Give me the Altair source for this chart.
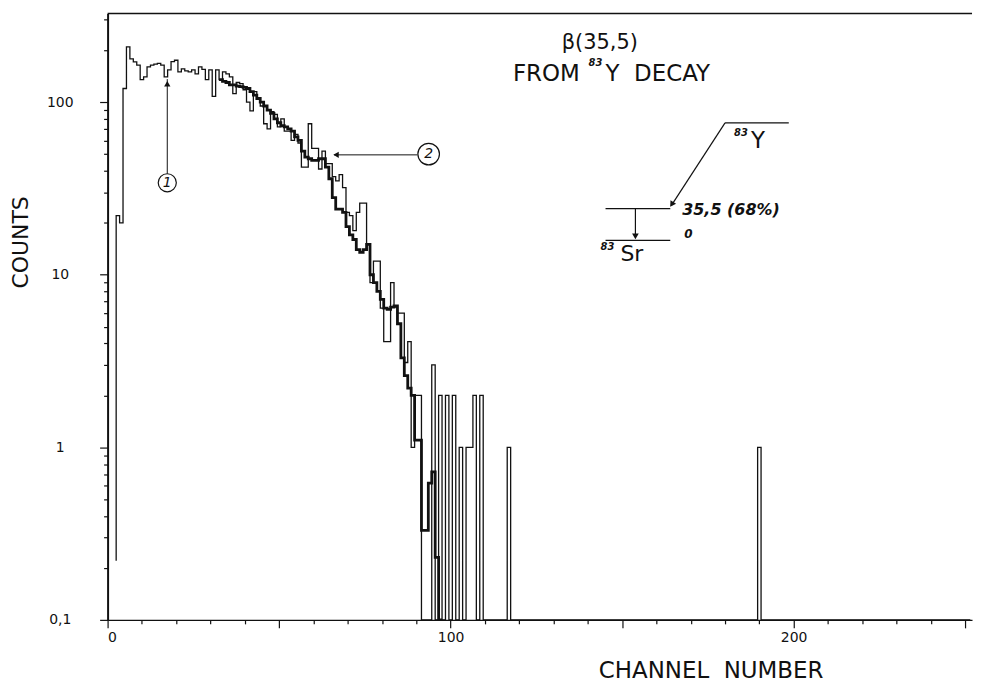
import altair as alt
import pandas as pd

# ---------------- data ----------------
# thin histogram (1): counts per channel, starting at channel 3
thin_first_channel = 3
thin_counts = [
    22, 20, 120, 209, 178, 171, 164, 135, 140, 160,          # 3-12
    164, 166, 168, 164, 140, 154, 172, 175, 150, 156,        # 13-22
    152, 150, 154, 146, 160, 155, 135, 154, 108, 154,        # 23-32
    135, 150, 146, 140, 112, 130, 128, 118, 100, 89,         # 33-42
    115, 105, 95, 75, 70, 88, 85, 72, 80, 68,                # 43-52
    68, 60, 65, 58, 42, 42, 75, 54, 54, 41,                  # 53-62
    52, 44, 44, 37, 35, 38, 32, 23, 22, 18,                  # 63-72
    23, 26, 26, 15, 9, 12, 12, 6.4, 4.1, 4.1,                # 73-82
    9, 6.5, 6.0, 6.0, 3.1, 4.1, 1.0, 2.0, 2.0, 0,            # 83-92
    0, 0, 3, 0, 2, 0, 2, 0, 2, 0,                            # 93-102
    1, 0, 1, 1, 2, 0, 2, 0, 0, 0,                            # 103-112
    0, 0, 0, 0, 1,                                           # 113-117
]
thin_start_level = 0.22
late_channels = [190]
late_counts = [1]
last_channel = 251

# thick histogram (2): counts per channel, starting at channel 33
thick_first_channel = 33
thick_counts = [
    135, 132, 130, 126, 126, 124, 123, 122, 120, 115,        # 33-42
    110, 105, 100, 95, 90, 86, 80, 76, 73, 72,               # 43-52
    70, 68, 63, 60, 52, 48, 47, 46, 46, 47,                  # 53-62
    47, 42, 36, 28, 24, 24, 23, 19, 17, 16,                  # 63-72
    14, 13.5, 14, 15, 10, 9, 8, 7.2, 6.4, 6.3,               # 73-82
    6.5, 6.6, 5.2, 3.3, 2.6, 2.2, 2.0, 1.1, 1.1, 0.33,       # 83-92
    0.33, 0.62, 0.72, 0.23, 0,                               # 93-97
]

# axes
x_domain = [0, 252]
y_domain = [0.1, 327]
x_tick_values = list(range(0, 260, 10))
x_label_values = [0, 100, 200]
y_tick_values = [round(m * 10.0 ** e, 6) for e in (-1, 0, 1) for m in range(1, 10)] + [100, 200, 300]
y_label_values = [0.1, 1, 10, 100]
y_label_texts = ["0,1", "1", "10", "100"]

# annotations (data coordinates)
ann_channels = [17.4, 93.6]
ann_counts = [34.1, 50.0]
ann_texts = ["1", "2"]

W, H = 868, 609
FONT = "DejaVu Sans"
INK = "#111111"


def step_vertices(first, counts, start_level=None):
    floor = y_domain[0]
    rows = []
    if start_level is not None:
        rows.append((first - 0.5, start_level))
    for k, c in enumerate(counts):
        ch = first + k
        v = max(c, floor)
        rows.append((ch - 0.5, v))
        rows.append((ch + 0.5, v))
    df = pd.DataFrame(rows, columns=["channel", "counts"])
    df["i"] = range(len(df))
    return df


full = {thin_first_channel + k: c for k, c in enumerate(thin_counts)}
for ch, c in zip(late_channels, late_counts):
    full[ch] = c
thin_all = [full.get(ch, 0) for ch in range(thin_first_channel, last_channel + 1)]
thin_df = step_vertices(thin_first_channel, thin_all, thin_start_level)
thick_df = step_vertices(thick_first_channel, thick_counts)

xs = alt.Scale(domain=x_domain, nice=False, zero=False)
ys = alt.Scale(type="log", domain=y_domain, nice=False)

x_label_expr = "indexof(%s, datum.value) >= 0 ? '' + datum.value : ''" % str(x_label_values)
y_label_expr = " : ".join(
    "datum.value == %s ? '%s'" % (v, t) for v, t in zip(y_label_values, y_label_texts)
) + " : ''"

x_axis = alt.Axis(
    values=x_tick_values, labelExpr=x_label_expr, title=None, grid=False,
    domainColor=INK, domainWidth=1.5, tickColor=INK, tickWidth=1.2,
    tickSize={"condition": {"test": "datum.value % 50 == 0", "value": 8}, "value": 4},
    labelFont=FONT, labelFontSize=14, labelColor=INK, labelPadding=3, labelOverlap=False,
)
y_axis = alt.Axis(
    values=y_tick_values, labelExpr=y_label_expr, title=None, grid=False,
    domainColor=INK, domainWidth=2, tickColor=INK, tickWidth=1.2,
    tickSize={"condition": {"test": "indexof(%s, datum.value) >= 0" % str(y_label_values), "value": 8}, "value": 4},
    labelFont=FONT, labelFontSize=14, labelColor=INK, labelAlign="center", labelBaseline="middle",
    labelPadding=40, labelOverlap=False,
)

X = alt.X("channel:Q", scale=xs, axis=x_axis)
Y = alt.Y("counts:Q", scale=ys, axis=y_axis)

thin = alt.Chart(thin_df).mark_line(color=INK, strokeWidth=1.3, clip=True).encode(
    x=X, y=Y, order="i:Q")
thick = alt.Chart(thick_df).mark_line(color=INK, strokeWidth=2.8, clip=True).encode(
    x=X, y=Y, order="i:Q")

# top frame line
frame_df = pd.DataFrame({"k": [0]})
top_line = alt.Chart(frame_df).mark_rule(color=INK, strokeWidth=1.5).encode(
    x=alt.value(0), x2=alt.value(W), y=alt.value(0))

# arrows to the curves
arr1 = pd.DataFrame({"channel": [17.4], "counts": [38.5], "counts2": [136]})
arr1_line = alt.Chart(arr1).mark_rule(color=INK, strokeWidth=1).encode(
    x=X, y=Y, y2="counts2:Q")
arr1_head = alt.Chart(pd.DataFrame({"channel": [17.4], "counts": [128]})).mark_point(
    shape="triangle-up", filled=True, color=INK, size=40, opacity=1).encode(x=X, y=Y)
arr2 = pd.DataFrame({"channel": [66.0], "channel2": [90.3], "counts": [49.5]})
arr2_line = alt.Chart(arr2).mark_rule(color=INK, strokeWidth=1).encode(
    x=X, x2="channel2:Q", y=Y)
arr2_head = alt.Chart(pd.DataFrame({"channel": [66.6], "counts": [49.5]})).mark_point(
    shape="triangle-left", filled=True, color=INK, size=40, opacity=1).encode(x=X, y=Y)

ann_df = pd.DataFrame({"channel": ann_channels, "counts": ann_counts, "label": ann_texts,
                       "sz": [330, 470]})
circles = alt.Chart(ann_df).mark_point(shape="circle", color=INK, strokeWidth=1.2, opacity=1).encode(
    x=X, y=Y, size=alt.Size("sz:Q", scale=None, legend=None))
circle_txt = alt.Chart(ann_df).mark_text(font=FONT, fontSize=14, fontStyle="italic", color=INK).encode(
    x=X, y=Y, text="label:N")


def txt(s, x, y, size, style="normal", weight="normal", angle=0, align="left", baseline="alphabetic"):
    kw = dict(font=FONT, fontSize=size, fontStyle=style, fontWeight=weight, color=INK,
              align=align, baseline=baseline, text=s)
    if angle:
        kw["angle"] = angle
    return alt.Chart(frame_df).mark_text(**kw).encode(x=alt.value(x), y=alt.value(y))


def seg(x1, y1, x2, y2, w=1.2):
    return alt.Chart(frame_df).mark_rule(color=INK, strokeWidth=w).encode(
        x=alt.value(x1), y=alt.value(y1), x2=alt.value(x2), y2=alt.value(y2))


def head(x, y, angle):
    return alt.Chart(frame_df).mark_point(shape="triangle", filled=True, color=INK, size=45,
                                          opacity=1, angle=angle).encode(x=alt.value(x), y=alt.value(y))


texts = [
    txt("COUNTS", -87, 230, 22, angle=270, align="center", baseline="middle"),
    txt("CHANNEL\u00a0\u00a0NUMBER", 606, 667, 23, align="center"),
    txt("\u03b2(35,5)", 456, 36, 21),
    txt("FROM", 407, 68, 23),
    txt("83", 483, 53, 10, style="italic", weight="bold"),
    txt("Y\u00a0\u00a0DECAY", 500, 68, 23),
    txt("Y", 646, 135, 23),
    txt("83", 629, 123, 10, style="italic", weight="bold"),
    txt("35,5 (68%)", 577, 202, 16, style="italic", weight="bold"),
    txt("0", 579, 226, 12, style="italic", weight="bold"),
    txt("Sr", 515, 249, 22),
    txt("83", 495, 238, 10, style="italic", weight="bold"),
]
scheme = [
    seg(620, 110, 684, 110),
    seg(620, 110, 566, 193),
    head(567, 191, 213),
    seg(500, 196, 565, 196),
    seg(530, 196, 530, 224),
    head(530, 223, 180),
    seg(500, 228, 565, 228),
]

chart = alt.layer(
    thin, thick, top_line, arr1_line, arr1_head, arr2_line, arr2_head, circles, circle_txt,
    *texts, *scheme
).properties(
    width=W, height=H,
    autosize=alt.AutoSizeParams(type="none"),
    padding={"left": 100, "top": 4, "right": 5, "bottom": 66},
    background="white",
).configure_view(strokeWidth=0)

chart.save("out.html", embed_options={"renderer": "svg", "actions": False})
